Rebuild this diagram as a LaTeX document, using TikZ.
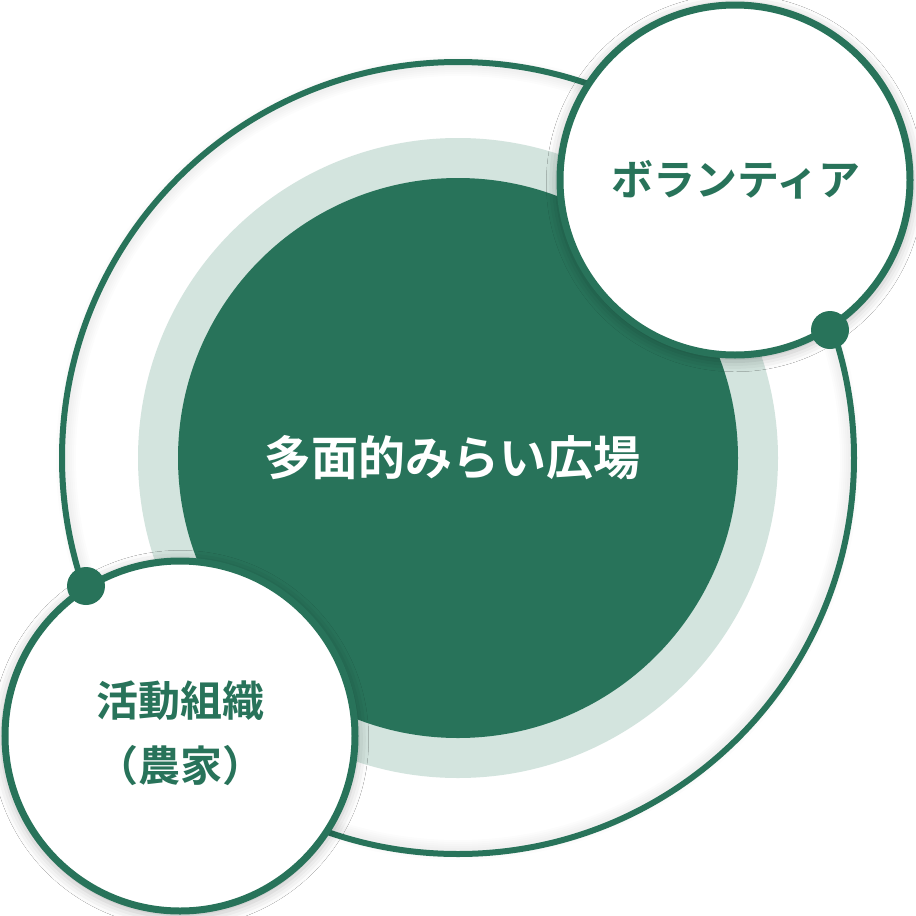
\documentclass[tikz,border=0pt]{standalone}
\usepackage{fontspec}
\newfontfamily\jp{Noto Sans CJK JP}[BoldFont={Noto Sans CJK JP Bold}]
\usetikzlibrary{shadows.blur}
\definecolor{dkgreen}{HTML}{28735A}
\definecolor{ltgreen}{HTML}{D3E4DE}
\tikzset{
  bubble/.style={circle, fill=white, draw=dkgreen, line width=7pt, minimum size=350pt, inner sep=0pt,
    blur shadow={shadow xshift=0pt, shadow yshift=-3pt, shadow blur radius=10pt, shadow opacity=25, shadow scale=1.02}},
  dot/.style={circle, fill=dkgreen, minimum size=38pt, inner sep=0pt},
  bubbletext/.style={text=dkgreen, font=\jp\bfseries\fontsize{42}{65}\selectfont, align=center},
  maintext/.style={text=white, font=\jp\bfseries\fontsize{47}{56}\selectfont}
}
\begin{document}
\begin{tikzpicture}[x=1pt,y=-1pt]
\useasboundingbox[fill=white] (0,0) rectangle (916,916);
\coordinate (c) at (458,458);
% soft shadow of outer ring
\foreach \w in {4,8,12,16,20}
  \draw[black, opacity=0.012, line width=\w pt] (c) circle[radius=392pt];
\draw[dkgreen, line width=6pt] (c) circle[radius=396pt];
% centre discs
\node[circle, fill=ltgreen, minimum size=640pt, inner sep=0pt] (ring) at (c) {};
\node[circle, fill=dkgreen, minimum size=560pt, inner sep=0pt] (core) at (c) {};
\node[maintext] (mainlabel) at (452,458) {多面的みらい広場};
% bubbles
\node[bubble] (vol) at (735,180) {};
\node[bubbletext] (voltext) at (736,180) {ボランティア};
\node[bubble] (org) at (180,736) {};
\node[bubbletext, anchor=center] (orgtext) at (180,733) {活動組織\\（農家）};
% dots
\node[dot] (dot1) at (830,330) {};
\node[dot] (dot2) at (86,586) {};
\end{tikzpicture}
\end{document}
